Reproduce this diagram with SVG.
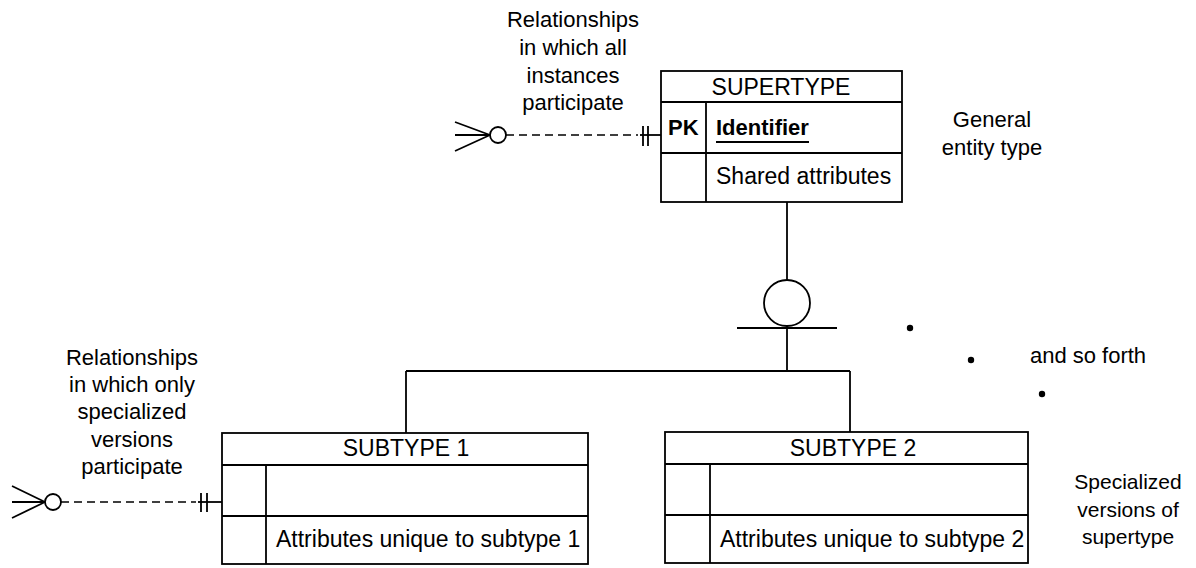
<svg xmlns="http://www.w3.org/2000/svg" width="1196" height="568" viewBox="0 0 1196 568">
<style>
.ln{stroke:#000;stroke-width:1.8;fill:none}
.t{font-family:"Liberation Sans",Arial,sans-serif;font-size:23px;fill:#000}
.l{font-family:"Liberation Sans",Arial,sans-serif;font-size:22px;fill:#000;text-anchor:middle}
.s{font-size:21px}
.c{text-anchor:middle}
.b{font-weight:bold;font-size:22px}
.d{stroke:#000;stroke-width:1.5;fill:none;stroke-dasharray:8 5}
</style>
<rect width="1196" height="568" fill="#fff"/>
<g id="supertype">
<rect class="ln" x="661" y="71" width="241" height="131"/>
<line class="ln" x1="661" y1="102" x2="902" y2="102"/>
<line class="ln" x1="661" y1="153" x2="902" y2="153"/>
<line class="ln" x1="706" y1="102" x2="706" y2="202"/>
<text class="t c" x="781" y="95">SUPERTYPE</text>
<text class="t b" x="668" y="135">PK</text>
<text class="t b" x="716" y="135">Identifier</text>
<line class="ln" x1="716" y1="142" x2="809" y2="142"/>
<text class="t" x="716" y="184">Shared attributes</text>
</g>
<g id="subtype1">
<rect class="ln" x="222" y="433" width="366" height="131"/>
<line class="ln" x1="222" y1="465" x2="588" y2="465"/>
<line class="ln" x1="222" y1="516" x2="588" y2="516"/>
<line class="ln" x1="266" y1="465" x2="266" y2="564"/>
<text class="t c" x="406" y="456">SUBTYPE 1</text>
<text class="t" x="276" y="547">Attributes unique to subtype 1</text>
</g>
<g id="subtype2">
<rect class="ln" x="665" y="432" width="363" height="131"/>
<line class="ln" x1="665" y1="464" x2="1028" y2="464"/>
<line class="ln" x1="665" y1="515" x2="1028" y2="515"/>
<line class="ln" x1="710" y1="464" x2="710" y2="563"/>
<text class="t c" x="853" y="456">SUBTYPE 2</text>
<text class="t" x="720" y="547">Attributes unique to subtype 2</text>
</g>
<g id="connectors">
<line class="ln" x1="787" y1="202" x2="787" y2="280"/>
<circle class="ln" cx="787" cy="303" r="23"/>
<line class="ln" x1="737" y1="328" x2="837" y2="328"/>
<line class="ln" x1="787" y1="326" x2="787" y2="371"/>
<line class="ln" x1="406" y1="371" x2="850" y2="371"/>
<line class="ln" x1="406" y1="371" x2="406" y2="433"/>
<line class="ln" x1="850" y1="371" x2="850" y2="432"/>
<line class="ln" x1="455" y1="122" x2="490" y2="135"/>
<line class="ln" x1="455" y1="135" x2="490" y2="135"/>
<line class="ln" x1="455" y1="151" x2="490" y2="135"/>
<circle class="ln" cx="498" cy="135" r="8"/>
<line class="d" x1="506" y1="135" x2="638" y2="135"/>
<line class="ln" x1="640" y1="135" x2="661" y2="135"/>
<line class="ln" x1="643" y1="126" x2="643" y2="146"/>
<line class="ln" x1="648" y1="126" x2="648" y2="146"/>
<line class="ln" x1="12" y1="486" x2="45" y2="502"/>
<line class="ln" x1="12" y1="502" x2="45" y2="502"/>
<line class="ln" x1="12" y1="518" x2="45" y2="502"/>
<circle class="ln" cx="53" cy="502" r="8"/>
<line class="d" x1="61" y1="502" x2="196" y2="502"/>
<line class="ln" x1="198" y1="502" x2="222" y2="502"/>
<line class="ln" x1="201" y1="493" x2="201" y2="512"/>
<line class="ln" x1="207" y1="493" x2="207" y2="512"/>
</g>
<g id="dots">
<circle cx="910" cy="328" r="3.2" fill="#000"/>
<circle cx="971" cy="360" r="3.2" fill="#000"/>
<circle cx="1042" cy="394" r="3.2" fill="#000"/>
</g>
<g id="labels">
<text class="l" x="573" y="27">Relationships</text>
<text class="l" x="573" y="55">in which all</text>
<text class="l" x="573" y="83">instances</text>
<text class="l" x="573" y="110">participate</text>
<text class="l" x="132" y="365">Relationships</text>
<text class="l" x="132" y="392">in which only</text>
<text class="l" x="132" y="419">specialized</text>
<text class="l" x="132" y="447">versions</text>
<text class="l" x="132" y="474">participate</text>
<text class="l" x="992" y="127">General</text>
<text class="l" x="992" y="155">entity type</text>
<text class="l" x="1088" y="363">and so forth</text>
<text class="l s" x="1128" y="489">Specialized</text>
<text class="l s" x="1128" y="517">versions of</text>
<text class="l s" x="1128" y="544">supertype</text>
</g>
</svg>
